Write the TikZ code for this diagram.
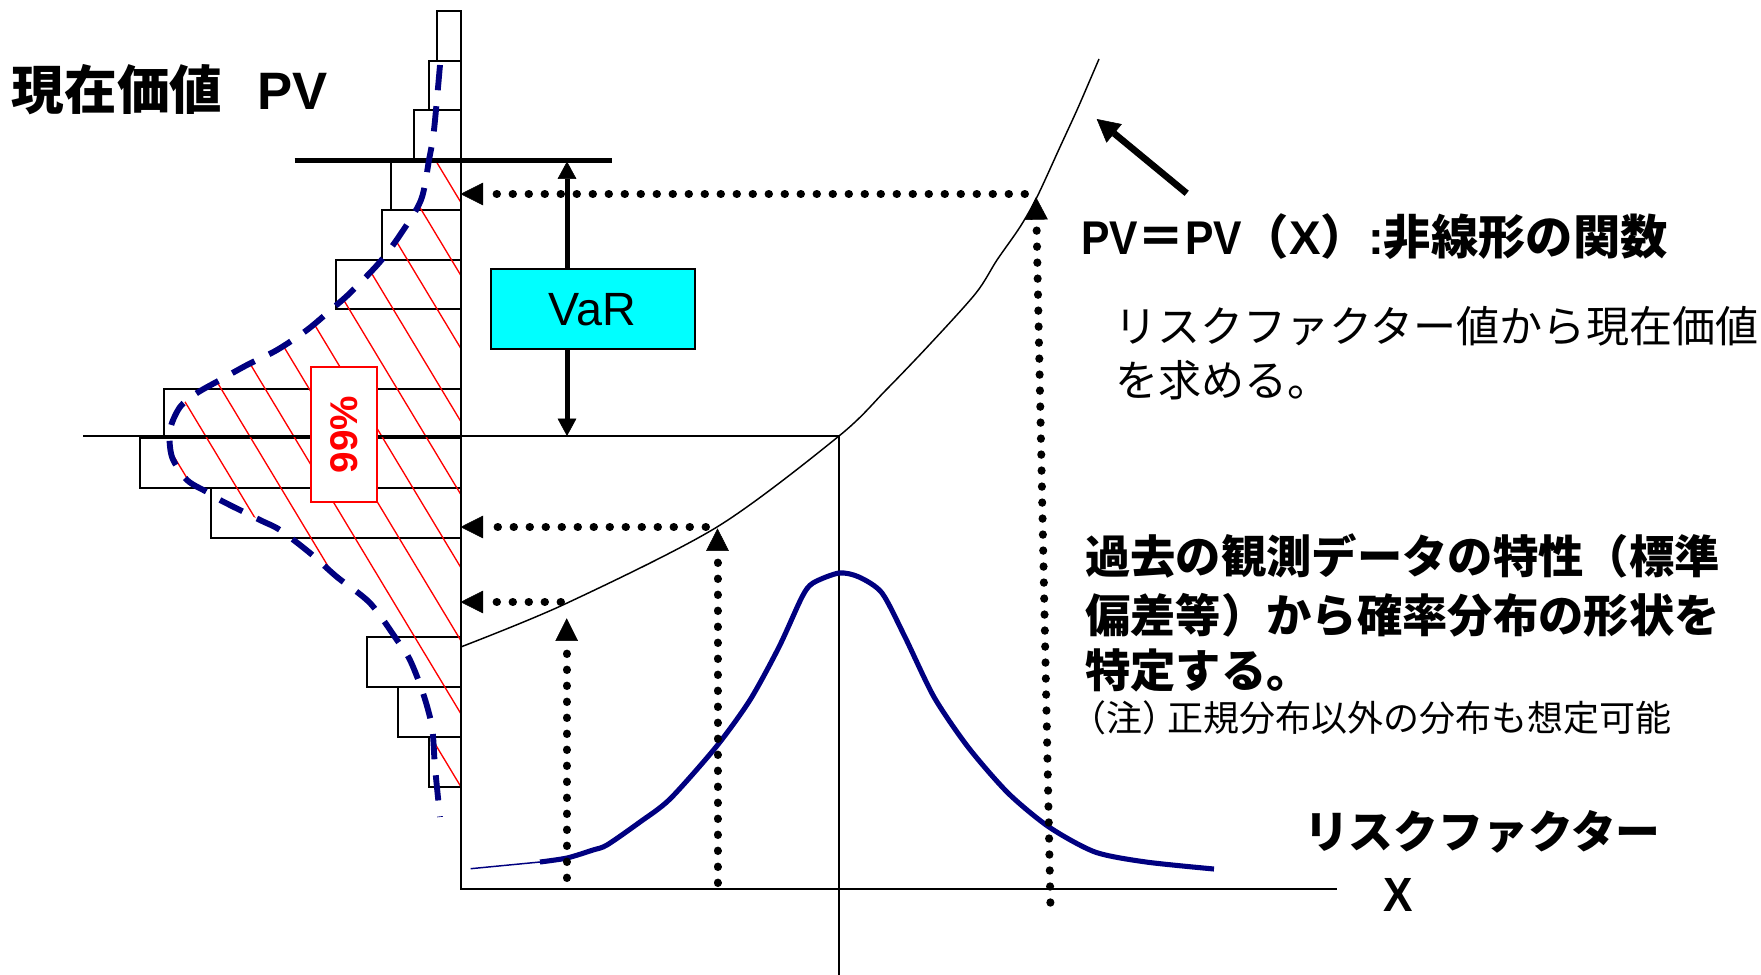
\documentclass[tikz,border=0pt]{standalone}
\usepackage{fontspec}
\usepackage{graphicx}
\setmainfont{Liberation Sans}
\newfontfamily\jp{Noto Sans CJK JP}
\usetikzlibrary{arrows.meta}
\definecolor{navyc}{RGB}{0,0,128}
\definecolor{cyanc}{RGB}{0,255,255}
\definecolor{redc}{RGB}{255,0,0}
\newcommand{\fsz}[1]{\fontsize{#1}{#1}\selectfont}
\tikzset{
  histbox/.style={draw=black, line width=1.5pt},
  axisline/.style={draw=black, line width=1.5pt},
  thinline/.style={draw=black, line width=1.1pt},
  dotline/.style={line width=6pt, line cap=round, dash pattern=on 0.3pt off 11.7pt},
  dotarrow/.style={dotline, -{Triangle[length=17pt,width=17pt,line width=0.4pt]}},
  vararrow/.style={line width=3.75pt, -{Triangle[length=13pt,width=14pt,line width=0.4pt]}},
  hatch/.style={draw=redc, line width=1pt},
  navydash/.style={draw=navyc, line width=4.4pt, dash pattern=on 19pt off 12pt},
  navysolid/.style={draw=navyc, line width=3.8pt, line join=round, line cap=butt},
  lbl/.style={inner sep=0pt, outer sep=0pt, anchor=base west},
}
\begin{document}
\begin{tikzpicture}[x=0.75pt,y=-0.75pt]
\fill[white] (0,0) rectangle (1761,975);
\useasboundingbox (0,0) rectangle (1761,975);

% histogram boxes
\draw[histbox] (437,11) rectangle (460.5,61);
\draw[histbox] (429.3,61) rectangle (460.5,110);
\draw[histbox] (413.8,110) rectangle (460.5,160.7);
\draw[histbox] (390.6,160.7) rectangle (460.5,210);
\draw[histbox] (382.2,210) rectangle (460.5,260);
\draw[histbox] (335.6,260) rectangle (460.5,309.3);
\draw[histbox] (163.7,389) rectangle (460.5,437);
\draw[histbox] (140.3,438) rectangle (460.5,488.3);
\draw[histbox] (210.7,488.3) rectangle (460.5,537.7);
\draw[histbox] (366.7,637.3) rectangle (460.5,686.7);
\draw[histbox] (398,686.7) rectangle (460.5,736.7);
\draw[histbox] (429,736.7) rectangle (460.5,786.7);

% red hatching
\begin{scope}
  \clip (100,161) rectangle (460.5,787);
  \clip plot[smooth] coordinates {(440,65) (434,130) (429,160) (421,200) (400,235) (379,263) (350,293) (333,308) (307,330) (277,350) (247,365) (220,380) (197,393) (180,407) (170,430) (172,457) (187,480) (207,492) (220,500) (260,520) (280,530) (310,553) (337,577) (370,603) (397,640) (410,660) (423,693) (432,727) (435,767) (440,817)} -- (460.5,817) -- (460.5,65) -- cycle;
  \foreach \x in {161.6,205.6,...,605} \draw[hatch] (\x-400,436-664) -- (\x+400,436+664);
\end{scope}

% coordinates
\coordinate (o) at (460.5,889.3);
\coordinate (ytop) at (460.5,11);
\coordinate (xend) at (1337,889.3);
\coordinate (q) at (839,436);
\coordinate (qb) at (839,975);
\coordinate (tl) at (83,436);
\coordinate (thickL) at (294.6,160.7);
\coordinate (thickR) at (611.6,160.7);

% axes and guide lines
\draw[axisline] (ytop) -- (o) -- (xend);
\draw[thinline] (tl) -- (q);
\draw[thinline] (q) -- (qb);
\draw[line width=3.75pt] (thickL) -- (thickR);

% PV(X) curve
\draw[thinline] plot[smooth] coordinates {(460.7,647) (565,604) (717,527) (839,436) (886,390) (931,343) (976,293) (997,260) (1020,227) (1037,197) (1060,147) (1077,110) (1090,80) (1099,59)};

% dashed navy distribution
\draw[navydash] plot[smooth] coordinates {(440,65) (434,130) (429,160) (421,200) (400,235) (379,263) (350,293) (333,308) (307,330) (277,350) (247,365) (220,380) (197,393) (180,407) (170,430) (172,457) (187,480) (207,492) (220,500) (260,520) (280,530) (310,553) (337,577) (370,603) (397,640) (410,660) (423,693) (432,727) (435,767) (440,817)};

% normal curve
\draw[navyc, line width=1.1pt] (470.6,868.7) -- (540,862);
\draw[navysolid] plot[smooth, tension=0.45] coordinates {(540,862) (567,858) (593,850) (607,845) (640,822) (670,799) (716,747) (750,700) (779,647) (802,597) (813,583) (839,573) (859,577) (882,593) (905,637) (934,697) (968,747) (1008,793) (1049,827) (1095,852) (1146,862) (1214,869)};

% dotted arrows
\coordinate (h1s) at (1025,194);  \coordinate (h1e) at (460.5,194);
\coordinate (v1s) at (1050.4,902.7); \coordinate (v1e) at (1036,197);
\coordinate (h2s) at (706,527);   \coordinate (h2e) at (460.5,527);
\coordinate (v2s) at (717.5,883); \coordinate (v2e) at (717.5,528.3);
\coordinate (h3s) at (561,602);   \coordinate (h3e) at (460.5,602);
\coordinate (v3s) at (566.7,878); \coordinate (v3e) at (566.7,618.3);
\draw[dotarrow] (h1s) -- (h1e);
\draw[dotarrow] (v1s) -- (v1e);
\draw[dotarrow] (h2s) -- (h2e);
\draw[dotarrow] (v2s) -- (v2e);
\draw[dotarrow] (h3s) -- (h3e);
\draw[dotarrow] (v3s) -- (v3e);

% VaR box and arrows
\node[draw=black, line width=1.5pt, fill=cyanc, minimum width=153pt, minimum height=59.8pt, inner sep=0pt] (var) at (592.5,309.2) {\fsz{35pt}VaR};
\coordinate (vtop) at (567,161.5);
\coordinate (vbot) at (567,436);
\draw[vararrow] (var.north -| vtop) -- (vtop);
\draw[vararrow] (var.south -| vbot) -- (vbot);

% 99% box
\node[draw=redc, line width=1.1pt, fill=white, rotate=90, minimum width=101.25pt, minimum height=49.7pt, inner sep=0pt, text=redc] (pct) at (343.9,434.5) {\fsz{29pt}\bfseries 99\%};

% arrow to curve
\coordinate (bas) at (1186.7,193.3);
\coordinate (tip) at (1096.7,119);
\draw[line width=5pt, -{Triangle[length=17pt,width=18pt,line width=0.4pt]}] (bas) -- (tip);

% texts
\node[lbl] (pvlabel) at (12,109) {\fsz{39.5pt}\bfseries{\jp 現在価値}\hspace{26pt}PV};
\node[lbl] (func) at (1081,254) {\fsz{35.5pt}\bfseries\scalebox{0.9}[1]{PV}{\jp ＝}\scalebox{0.9}[1]{PV}{\jp （}X{\jp ）}:{\jp 非線形の関数}};
\node[lbl] (rf1) at (1114,342) {\fsz{32.3pt}\jp リスクファクター値から現在価値};
\node[lbl] (rf2) at (1115,396) {\fsz{32.3pt}\jp を求める。};
\node[lbl] (b1) at (1085,573) {\fsz{34pt}\jp\bfseries 過去の観測データの特性（標準};
\node[lbl] (b2) at (1085,632) {\fsz{34pt}\jp\bfseries 偏差等）から確率分布の形状を};
\node[lbl] (b3) at (1085,687) {\fsz{34pt}\jp\bfseries 特定する。};
\node[lbl] (note) at (1070,731) {\fsz{27pt}\jp （注）\kern-0.3em 正規分布以外の分布も想定可能};
\node[lbl] (rfx) at (1304,848.5) {\fsz{33.6pt}\jp\bfseries リスクファクター};
\node[inner sep=0pt] (xlab) at (1398,894.5) {\fsz{36pt}\bfseries\scalebox{0.92}[1]{X}};
\end{tikzpicture}
\end{document}
